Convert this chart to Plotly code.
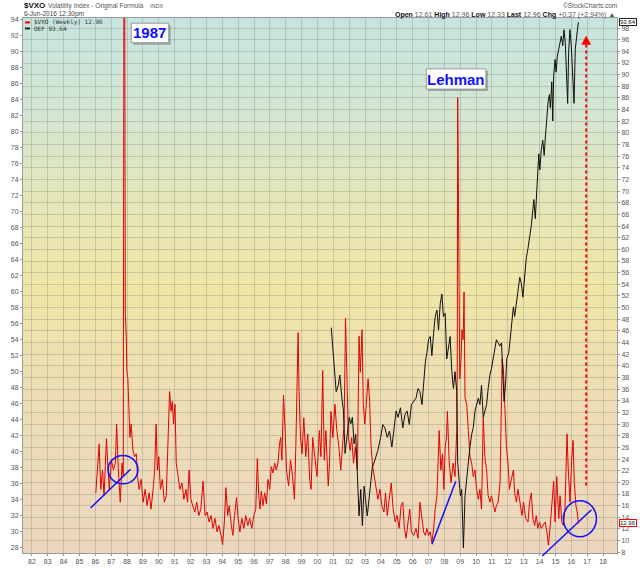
import plotly.graph_objects as go

# $VXO weekly (decimal year / value on right axis)
vxo_year = [
    1986.03, 1986.13, 1986.24, 1986.34, 1986.45, 1986.55, 1986.70, 1986.80, 1986.88,
    1987.01, 1987.14, 1987.26, 1987.34, 1987.45, 1987.57, 1987.68, 1987.76, 1987.82, 1987.89, 1987.95, 1987.99,
    1988.05, 1988.11, 1988.18, 1988.26, 1988.37, 1988.47, 1988.58, 1988.66, 1988.76, 1988.89,
    1989.01, 1989.14, 1989.26, 1989.39, 1989.51, 1989.64, 1989.74, 1989.83, 1989.91,
    1990.00, 1990.10, 1990.22, 1990.35, 1990.47, 1990.60, 1990.68, 1990.77, 1990.85, 1990.93,
    1991.02, 1991.10, 1991.20, 1991.33, 1991.46, 1991.58, 1991.71, 1991.81, 1991.91,
    1992.02, 1992.14, 1992.27, 1992.39, 1992.52, 1992.65, 1992.79, 1992.92,
    1993.04, 1993.17, 1993.29, 1993.42, 1993.54, 1993.67, 1993.79, 1993.92,
    1994.02, 1994.13, 1994.23, 1994.34, 1994.44, 1994.57, 1994.67, 1994.77, 1994.90,
    1995.00, 1995.11, 1995.23, 1995.36, 1995.48, 1995.61, 1995.73, 1995.86, 1995.99,
    1996.11, 1996.21, 1996.30, 1996.38, 1996.46, 1996.57, 1996.67, 1996.78, 1996.88, 1996.99,
    1997.09, 1997.19, 1997.30, 1997.40, 1997.51, 1997.61, 1997.68, 1997.76, 1997.86, 1997.97,
    1998.05, 1998.18, 1998.30, 1998.43, 1998.55, 1998.64, 1998.72, 1998.78, 1998.84, 1998.93,
    1999.03, 1999.14, 1999.26, 1999.39, 1999.51, 1999.60, 1999.70, 1999.85, 1999.97,
    2000.12, 2000.22, 2000.33, 2000.43, 2000.53, 2000.68, 2000.76, 2000.85, 2000.97,
    2001.10, 2001.22, 2001.35, 2001.47, 2001.60, 2001.68, 2001.77, 2001.85, 2001.95,
    2002.06, 2002.16, 2002.27, 2002.39, 2002.52, 2002.62, 2002.70, 2002.81, 2002.89, 2002.98,
    2003.08, 2003.19, 2003.29, 2003.37, 2003.48, 2003.58, 2003.69, 2003.81, 2003.94,
    2004.06, 2004.19, 2004.29, 2004.40, 2004.52, 2004.65, 2004.77, 2004.90,
    2005.02, 2005.15, 2005.27, 2005.38, 2005.48, 2005.59, 2005.71, 2005.82, 2005.92,
    2006.07, 2006.21, 2006.34, 2006.46, 2006.59, 2006.69, 2006.80, 2006.90,
    2007.00, 2007.11, 2007.21, 2007.32, 2007.42, 2007.53, 2007.61, 2007.67, 2007.78, 2007.88, 2007.97,
    2008.05, 2008.13, 2008.19, 2008.30, 2008.42, 2008.55, 2008.67, 2008.78, 2008.81, 2008.84, 2008.86, 2008.88, 2008.92, 2008.97,
    2009.05, 2009.11, 2009.18, 2009.24, 2009.30, 2009.41, 2009.51, 2009.61, 2009.72, 2009.82, 2009.93,
    2010.03, 2010.14, 2010.24, 2010.34, 2010.45, 2010.55, 2010.66, 2010.76, 2010.87, 2010.97,
    2011.07, 2011.18, 2011.28, 2011.39, 2011.51, 2011.64, 2011.72, 2011.81, 2011.91,
    2012.01, 2012.10, 2012.22, 2012.35, 2012.43, 2012.54, 2012.64, 2012.77, 2012.89, 2012.99,
    2013.12, 2013.27, 2013.37, 2013.48, 2013.58, 2013.69, 2013.79, 2013.89,
    2014.00, 2014.10, 2014.21, 2014.35, 2014.46, 2014.56, 2014.69, 2014.77, 2014.89, 2014.98,
    2015.08, 2015.21, 2015.29, 2015.40, 2015.50, 2015.60, 2015.69, 2015.73, 2015.81, 2015.92,
    2016.02, 2016.11, 2016.19, 2016.29, 2016.37, 2016.45,
]
vxo_value = [
    18.2, 22.1, 26.6, 18.8, 22.1, 17.7, 27.5, 22.1, 18.8,
    23.8, 22.1, 23.3, 30.0, 22.1, 16.6, 23.3, 21.0, 150.0, 49.0, 45.0, 38.9,
    37.8, 33.4, 27.7, 30.0, 25.5, 24.4, 24.9, 21.0, 18.8, 20.5,
    16.6, 18.8, 16.0, 18.2, 15.4, 18.8, 22.1, 30.0, 22.1,
    24.4, 18.8, 20.5, 16.6, 17.7, 27.7, 35.6, 32.2, 33.9, 30.0,
    33.4, 23.3, 21.6, 18.8, 19.9, 17.1, 18.8, 16.6, 22.1,
    17.1, 16.0, 14.9, 16.6, 14.3, 15.4, 20.2, 14.3,
    14.9, 13.2, 14.3, 12.1, 13.8, 11.5, 12.6, 10.9,
    9.3, 13.2, 19.1, 14.3, 16.0, 12.6, 10.9, 14.3, 17.4,
    13.8, 11.5, 13.8, 12.1, 14.3, 12.6, 13.8, 12.1, 14.3,
    15.4, 24.1, 17.7, 15.4, 18.5, 16.0, 18.2, 16.3, 20.5, 18.8,
    22.7, 21.6, 23.3, 22.1, 23.3, 26.6, 27.7, 23.8, 35.0, 28.3,
    22.1, 19.4, 23.8, 21.0, 17.1, 26.6, 38.9, 45.7, 35.6, 27.7,
    24.9, 31.1, 24.4, 28.3, 20.5, 18.8, 27.7, 23.8, 21.0,
    28.9, 24.4, 39.2, 23.8, 28.9, 19.4, 23.3, 32.2, 27.7,
    33.4, 28.9, 26.1, 22.1, 26.1, 30.0, 48.2, 36.7, 27.7,
    25.5, 27.7, 23.3, 26.1, 22.1, 45.1, 38.9, 46.2, 33.4, 30.0,
    33.4, 37.8, 33.9, 26.6, 22.7, 21.0, 19.4, 17.1, 18.8,
    16.0, 14.9, 18.2, 14.3, 16.6, 19.9, 15.4, 13.2,
    14.3, 12.1, 16.0, 16.6, 12.1, 10.4, 13.2, 15.4, 11.5,
    10.9, 12.1, 10.4, 16.6, 13.2, 11.5, 10.9, 12.1,
    10.9, 11.5, 9.6, 12.0, 15.4, 17.7, 23.8, 28.9, 22.1, 24.9, 18.8,
    26.1, 27.7, 32.2, 23.8, 19.9, 23.3, 21.0, 28.9, 38.9, 86.1, 76.4, 60.0, 45.0, 37.8,
    41.2, 46.2, 44.5, 52.7, 34.5, 33.4, 28.9, 24.4, 23.3, 21.0, 22.1,
    18.8, 17.1, 18.8, 15.4, 31.1, 24.4, 22.1, 17.7, 16.6, 17.7,
    16.0, 14.9, 16.0, 16.6, 19.9, 41.2, 39.5, 33.4, 26.1,
    23.3, 18.8, 20.5, 22.1, 18.2, 16.6, 18.8, 16.0, 14.3, 16.6,
    13.8, 13.2, 16.6, 18.2, 13.8, 12.6, 14.3, 12.1,
    13.2, 12.1, 12.6, 13.2, 11.5, 9.2, 13.2, 16.6, 20.2, 13.2,
    21.0, 13.8, 17.7, 13.2, 12.6, 15.4, 22.1, 28.3, 22.1, 16.6,
    23.8, 27.2, 19.9, 16.0, 14.9, 12.96,
]

# OEF weekly (left axis)
oef_year = [
    2000.87, 2000.95, 2001.06, 2001.18, 2001.31, 2001.41, 2001.52, 2001.64, 2001.74, 2001.85,
    2002.00, 2002.10, 2002.20, 2002.31, 2002.41, 2002.52, 2002.62, 2002.73, 2002.83, 2002.94,
    2003.04, 2003.14, 2003.25, 2003.35, 2003.46, 2003.56, 2003.67, 2003.81, 2003.98,
    2004.12, 2004.25, 2004.40, 2004.54, 2004.69, 2004.81, 2004.96,
    2005.08, 2005.23, 2005.38, 2005.52, 2005.65, 2005.79, 2005.92,
    2006.07, 2006.21, 2006.34, 2006.46, 2006.59, 2006.69, 2006.80, 2006.90,
    2007.00, 2007.11, 2007.21, 2007.32, 2007.42, 2007.53, 2007.63, 2007.74, 2007.84, 2007.94,
    2008.05, 2008.15, 2008.26, 2008.36, 2008.47, 2008.57, 2008.67, 2008.78, 2008.84, 2008.93,
    2009.01, 2009.09, 2009.20, 2009.30, 2009.41, 2009.51, 2009.61, 2009.72, 2009.82, 2009.93,
    2010.03, 2010.14, 2010.24, 2010.34, 2010.45, 2010.55, 2010.66, 2010.76, 2010.87, 2010.97,
    2011.07, 2011.18, 2011.28, 2011.39, 2011.49, 2011.60, 2011.70, 2011.76, 2011.85, 2011.93,
    2012.06, 2012.18, 2012.26, 2012.35, 2012.43, 2012.54, 2012.64, 2012.75, 2012.85, 2012.95,
    2013.06, 2013.16, 2013.27, 2013.37, 2013.48, 2013.54, 2013.64, 2013.73, 2013.81, 2013.89, 2013.95,
    2014.02, 2014.10, 2014.20, 2014.29, 2014.35, 2014.43, 2014.54, 2014.62, 2014.68, 2014.77, 2014.83, 2014.89, 2014.98,
    2015.04, 2015.12, 2015.21, 2015.29, 2015.37, 2015.46, 2015.54, 2015.62, 2015.71, 2015.77, 2015.83, 2015.91,
    2016.00, 2016.08, 2016.17, 2016.25, 2016.33, 2016.40, 2016.45,
]
oef_value = [
    55.5, 53.2, 50.8, 47.5, 48.3, 49.6, 47.1, 45.1, 39.8, 41.8,
    44.3, 43.5, 44.3, 41.0, 42.2, 36.9, 32.0, 35.3, 30.8, 35.7,
    33.7, 32.0, 34.1, 36.1, 38.1, 38.6, 39.4, 40.2, 41.8,
    43.4, 43.0, 41.8, 42.6, 40.6, 42.6, 45.1,
    44.3, 45.5, 43.0, 44.7, 45.1, 43.4, 45.9,
    46.3, 46.7, 47.9, 47.5, 45.9, 48.7, 51.2, 52.4,
    54.0, 54.4, 52.0, 54.8, 56.9, 57.7, 55.2, 58.5, 59.7, 56.9,
    57.3, 51.6, 53.2, 54.4, 50.0, 47.9, 50.0, 47.5, 38.6, 36.9,
    34.5, 35.3, 28.0, 34.5, 36.9, 38.1, 40.6, 42.2, 43.0, 45.1,
    45.9, 46.7, 45.9, 48.3, 44.3, 45.1, 45.9, 47.9, 49.6, 50.4,
    51.6, 53.2, 54.0, 53.6, 53.2, 53.6, 49.1, 46.3, 48.3, 51.6,
    52.4, 54.8, 56.9, 58.1, 56.9, 58.9, 60.1, 61.8, 61.0, 59.3,
    62.2, 64.2, 65.4, 66.6, 68.3, 69.5, 71.5, 69.1, 72.3, 74.4, 77.2,
    75.2, 77.6, 78.9, 77.0, 78.9, 81.3, 83.7, 84.6, 82.9, 86.2, 81.3, 87.0, 89.0,
    87.4, 89.4, 90.3, 91.1, 91.9, 90.7, 92.7, 91.1, 85.4, 83.5, 89.8, 92.7,
    90.7, 86.2, 83.5, 90.3, 92.3, 92.9, 93.64,
]

assert len(vxo_year) == len(vxo_value)
assert len(oef_year) == len(oef_value)

year_ticks = list(range(1982, 2019))
year_labels = [str(y)[2:] for y in year_ticks]
vxo_ticks = list(range(8, 99, 2))
oef_ticks = list(range(28, 95, 2))

FONT = "Liberation Sans"
W, H = 640, 576
L, R, T, B = 20, 22, 18, 11


def px(x):
    return (x - L) / (W - L - R)


def py(y):
    return (H - B - y) / (H - T - B)


fig = go.Figure()
fig.add_trace(go.Scatter(x=vxo_year, y=vxo_value, mode="lines", yaxis="y",
                         line=dict(color="rgb(228,0,0)", width=1), name="$VXO (Weekly)"))
fig.add_trace(go.Scatter(x=oef_year, y=oef_value, mode="lines", yaxis="y2",
                         line=dict(color="rgb(15,15,15)", width=1), name="OEF"))

# background gradient, teal -> yellow -> tan
stops = [(0.00, (198, 228, 223)), (0.18, (212, 230, 210)), (0.33, (228, 230, 186)),
         (0.50, (240, 230, 166)), (0.68, (238, 222, 178)), (1.00, (236, 214, 190))]


def grad(f):
    for (f0, c0), (f1, c1) in zip(stops[:-1], stops[1:]):
        if f0 <= f <= f1:
            t = (f - f0) / (f1 - f0)
            return "rgb(%d,%d,%d)" % tuple(round(a + (b - a) * t) for a, b in zip(c0, c1))
    return "rgb(%d,%d,%d)" % stops[-1][1]


shapes = []
n = 110
for i in range(n):
    f0, f1 = i / n, (i + 1) / n
    shapes.append(dict(type="rect", xref="paper", yref="paper", x0=0, x1=1,
                       y0=1 - f1 - 0.002, y1=1 - f0, fillcolor=grad((f0 + f1) / 2),
                       line=dict(width=0), layer="below"))

blue = "#1010ff"
# hand drawn lines / circles
for (x0, y0, x1, y1) in [(88, 519, 128.3, 479.3), (431.7, 556, 455.7, 491.7), (542.7, 568, 592.3, 520.7)]:
    shapes.append(dict(type="line", xref="paper", yref="paper", x0=px(x0), y0=py(y0),
                       x1=px(x1), y1=py(y1), line=dict(color=blue, width=1.5)))
for (x0, y0, x1, y1) in [(105.7, 465.3, 135.7, 494.3), (564, 511.7, 597.3, 548.3)]:
    shapes.append(dict(type="circle", xref="paper", yref="paper", x0=px(x0), y0=py(y1),
                       x1=px(x1), y1=py(y0), line=dict(color=blue, width=1.5)))

# red dotted arrow
shapes.append(dict(type="line", xref="paper", yref="paper", x0=px(587), x1=px(587),
                   y0=py(496), y1=py(44), line=dict(color="red", width=2, dash="dot")))
shapes.append(dict(type="path", xref="paper", yref="paper",
                   path="M %f,%f L %f,%f L %f,%f Z" % (px(582.5), py(45), px(591.5), py(45), px(587), py(36.5)),
                   fillcolor="red", line=dict(color="red", width=0.5)))

# label boxes with shadow
for (x0, y0, x1, y1) in [(129, 23.3, 166.7, 43.3), (426, 70, 486, 90.7)]:
    shapes.append(dict(type="rect", xref="paper", yref="paper", x0=px(x0 + 2), x1=px(x1 + 2),
                       y0=py(y1 + 2), y1=py(y0 + 2), fillcolor="rgba(90,90,90,0.45)", line=dict(width=0)))
    shapes.append(dict(type="rect", xref="paper", yref="paper", x0=px(x0), x1=px(x1),
                       y0=py(y1), y1=py(y0), fillcolor="white", line=dict(color="#999", width=1)))

# legend dashes
shapes.append(dict(type="line", xref="paper", yref="paper", x0=px(22), x1=px(27),
                   y0=py(22.5), y1=py(22.5), line=dict(color="red", width=2)))
shapes.append(dict(type="line", xref="paper", yref="paper", x0=px(22), x1=px(27),
                   y0=py(28.7), y1=py(28.7), line=dict(color="#222", width=2)))


def note(text, x, y, size=7, color="#333", xanchor="left", family=FONT, **kw):
    return dict(text=text, xref="paper", yref="paper", x=px(x), y=py(y), xanchor=xanchor,
                yanchor="middle", showarrow=False, font=dict(family=family, size=size, color=color), **kw)


annotations = [
    note("<b>$VXO</b>", 19, 5.5, size=8, color="#111"),
    note("Volatility Index - Original Formula", 43, 5.8, size=6.5, color="#555"),
    note("INDX", 146, 5.8, size=5.5, color="#555"),
    note("6-Jun-2016 12:30pm", 19, 14.3, size=6.5, color="#444"),
    note("\u00a9StockCharts.com", 620, 5.5, size=6.5, color="#555", xanchor="right"),
    note("<b>Open</b> <span style='color:#555'>12.61</span> <b>High</b> <span style='color:#555'>12.96</span> "
         "<b>Low</b> <span style='color:#555'>12.33</span> <b>Last</b> <span style='color:#555'>12.96</span> "
         "<b>Chg</b> <span style='color:#555'>+0.37 (+2.94%)</span> <span style='color:#2a6a2a'>\u25b2</span>",
         618, 14.5, size=7, color="#111", xanchor="right"),
    note("$VXO (Weekly) 12.96", 29, 22.3, size=6, color="#333", family="DejaVu Sans Mono"),
    note("OEF 93.64", 29, 28.9, size=6, color="#333", family="DejaVu Sans Mono"),
    note("<b>1987</b>", 147.8, 33.3, size=15, color=blue, xanchor="center"),
    note("<b>Lehman</b>", 456, 80.5, size=15, color=blue, xanchor="center"),
    note("93.64", 629.5, 22.3, size=6, color="#111", xanchor="center",
         bgcolor="white", bordercolor="#222", borderwidth=1, borderpad=0),
    note("12.96", 629.5, 534.6, size=6, color="#111", xanchor="center",
         bgcolor="white", bordercolor="red", borderwidth=1, borderpad=0),
]

grid = "rgba(120,135,120,0.33)"
tickfont = dict(size=7, color="#555")
fig.update_layout(
    width=W, height=H, margin=dict(l=L, r=R, t=T, b=B),
    paper_bgcolor="white", plot_bgcolor="rgba(0,0,0,0)",
    showlegend=False, shapes=shapes, annotations=annotations,
    font=dict(family=FONT, size=7, color="#555"),
    xaxis=dict(range=[1981.44, 2018.88], tickmode="array", tickvals=year_ticks, ticktext=year_labels,
               showgrid=True, gridcolor=grid, gridwidth=1, zeroline=False,
               ticks="outside", ticklen=2, tickcolor="#999", tickfont=tickfont,
               showline=True, linecolor="#9a9a9a", mirror=True),
    yaxis=dict(range=[7.87, 99.73], side="right", tickmode="array", tickvals=vxo_ticks,
               showgrid=True, gridcolor=grid, gridwidth=1, zeroline=False,
               ticks="outside", ticklen=2, tickcolor="#999", tickfont=tickfont,
               showline=True, linecolor="#9a9a9a", mirror=True),
    yaxis2=dict(range=[27.37, 94.16], side="left", overlaying="y", tickmode="array", tickvals=oef_ticks,
                showgrid=False, zeroline=False,
                ticks="outside", ticklen=2, tickcolor="#999", tickfont=tickfont,
                showline=True, linecolor="#9a9a9a"),
)

# page has default body margin; drop it so the figure sits at 0,0
fig.write_html("out.html", config={"displayModeBar": False},
               post_script="document.body.style.margin='0';")
